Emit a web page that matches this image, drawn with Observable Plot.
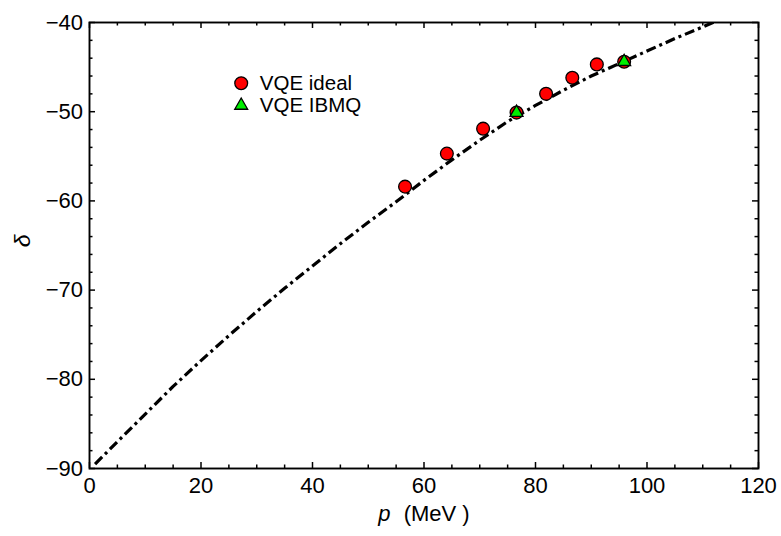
<!DOCTYPE html>
<html>
<head>
<meta charset="utf-8">
<script src="https://cdn.jsdelivr.net/npm/d3@7"></script>
<script src="https://cdn.jsdelivr.net/npm/@observablehq/plot@0.6"></script>
<style>
  html, body { margin: 0; padding: 0; background: #fff; }
  #chart svg { display: block; }
</style>
</head>
<body>
<div id="chart"></div>
<script>
// Theory curve (dash-dot)
const curveP = [1, 5, 10, 15, 20, 25, 30, 35, 40, 45, 50, 55, 60, 65, 70, 75, 80, 85, 90, 95, 100, 105, 110, 114];
const curveDelta = [-89.5, -87.0, -83.9, -80.8, -77.9, -75.1, -72.4, -69.8, -67.3, -64.8, -62.4, -60.1, -57.7, -55.4, -53.2, -51.1, -49.3, -47.6, -46.0, -44.6, -43.2, -41.8, -40.5, -39.4];

// VQE ideal (red circles)
const idealP = [56.6, 64.1, 70.6, 76.6, 81.9, 86.6, 91.0, 95.9];
const idealDelta = [-58.4, -54.7, -51.9, -50.1, -48.0, -46.2, -44.7, -44.4];

// VQE IBMQ (green triangles)
const ibmqP = [76.6, 95.9];
const ibmqDelta = [-50.1, -44.4];

// Axes
const xDomain = [0, 120];
const yDomain = [-90, -40];
const xMajor = [0, 20, 40, 60, 80, 100, 120];
const xMinor = d3.range(0, 121, 5).filter(v => v % 20 !== 0);
const yMajor = [-90, -80, -70, -60, -50, -40];
const yMinor = d3.range(-90, -39, 2).filter(v => v % 10 !== 0);

const legendLabels = ["VQE ideal", "VQE IBMQ"];

const curve = curveP.map((p, i) => ({p, d: curveDelta[i]}));
const ideal = idealP.map((p, i) => ({p, d: idealDelta[i]}));
const ibmq = ibmqP.map((p, i) => ({p, d: ibmqDelta[i]}));

const W = 781, H = 536;
const M = {left: 89, right: 23, top: 22, bottom: 68};
const FW = W - M.left - M.right;   // frame width (px)
const FH = H - M.top - M.bottom;   // frame height (px)
const FS = 22;
const MAJ = 6, MIN = 3.5;

// inward tick marks on all four sides (lengths in pixels, via insets)
function ticksX(values, side, len) {
  return Plot.tickX(values, {x: d => d, stroke: "#000", strokeWidth: 1.5,
    insetTop: side === "bottom" ? FH - len : 0, insetBottom: side === "top" ? FH - len : 0});
}
function ticksY(values, side, len) {
  return Plot.tickY(values, {y: d => d, stroke: "#000", strokeWidth: 1.5,
    insetRight: side === "left" ? FW - len : 0, insetLeft: side === "right" ? FW - len : 0});
}

const plot = Plot.plot({
  width: W,
  height: H,
  marginLeft: M.left,
  marginRight: M.right,
  marginTop: M.top,
  marginBottom: M.bottom,
  style: {fontFamily: "'Liberation Sans', Arial, Helvetica, sans-serif", fontSize: FS + "px", background: "#fff", color: "#000"},
  x: {domain: xDomain},
  y: {domain: yDomain},
  marks: [
    // tick labels
    Plot.axisX(xMajor, {anchor: "bottom", tickSize: 0, tickPadding: 9, fontSize: FS, label: null}),
    Plot.axisY(yMajor, {anchor: "left", tickSize: 0, tickPadding: 6.5, fontSize: FS, label: null}),
    ticksX(xMajor, "bottom", MAJ), ticksX(xMinor, "bottom", MIN),
    ticksX(xMajor, "top", MAJ), ticksX(xMinor, "top", MIN),
    ticksY(yMajor, "left", MAJ), ticksY(yMinor, "left", MIN),
    ticksY(yMajor, "right", MAJ), ticksY(yMinor, "right", MIN),
    Plot.frame({stroke: "#000", strokeWidth: 1.9}),
    // theory curve
    Plot.line(curve, {x: "p", y: "d", stroke: "#000", strokeWidth: 3.2, strokeLinecap: "butt", strokeLinejoin: "round", strokeDasharray: "10,4,3,4", clip: true}),
    // data
    Plot.dot(ideal, {x: "p", y: "d", r: 6.4, fill: "#ff0000", stroke: "#000", strokeWidth: 1.3}),
    Plot.dot(ibmq, {x: "p", y: "d", symbol: "triangle", r: 4.8, fill: "#00ee00", stroke: "#000", strokeWidth: 1.3}),
    // legend
    Plot.dot([legendLabels[0]], {frameAnchor: "top-left", dx: 151.7, dy: 60.7, r: 6.4, fill: "#ff0000", stroke: "#000", strokeWidth: 1.3}),
    Plot.dot([legendLabels[1]], {frameAnchor: "top-left", dx: 151.7, dy: 83, symbol: "triangle", r: 4.8, fill: "#00ee00", stroke: "#000", strokeWidth: 1.3}),
    Plot.text([legendLabels[0]], {frameAnchor: "top-left", dx: 170.3, dy: 60.5, text: d => d, textAnchor: "start", lineAnchor: "middle", fontSize: 20.5, fill: "#000"}),
    Plot.text([legendLabels[1]], {frameAnchor: "top-left", dx: 170.3, dy: 82.5, text: d => d, textAnchor: "start", lineAnchor: "middle", fontSize: 20.5, fill: "#000"}),
    // axis titles
    Plot.text(["p (MeV )"], {frameAnchor: "bottom", dy: 45, text: d => d, lineAnchor: "middle", fontSize: FS, fill: "#000"}),
    Plot.text(["δ"], {frameAnchor: "left", dx: -67.3, dy: 1.7, rotate: -90, text: d => d, lineAnchor: "middle", fontSize: 23, fontStyle: "italic", fill: "#000"})
  ]
});

// italic p in the x title, with the wider gap of the original
d3.select(plot).selectAll("text").filter(function() { return this.textContent === "p (MeV )"; }).each(function() {
  const t = d3.select(this);
  t.text(null);
  t.append("tspan").attr("font-style", "italic").text("p");
  t.append("tspan").attr("dx", 7).text(" (MeV )");
});

document.getElementById("chart").appendChild(plot);
</script>
</body>
</html>
